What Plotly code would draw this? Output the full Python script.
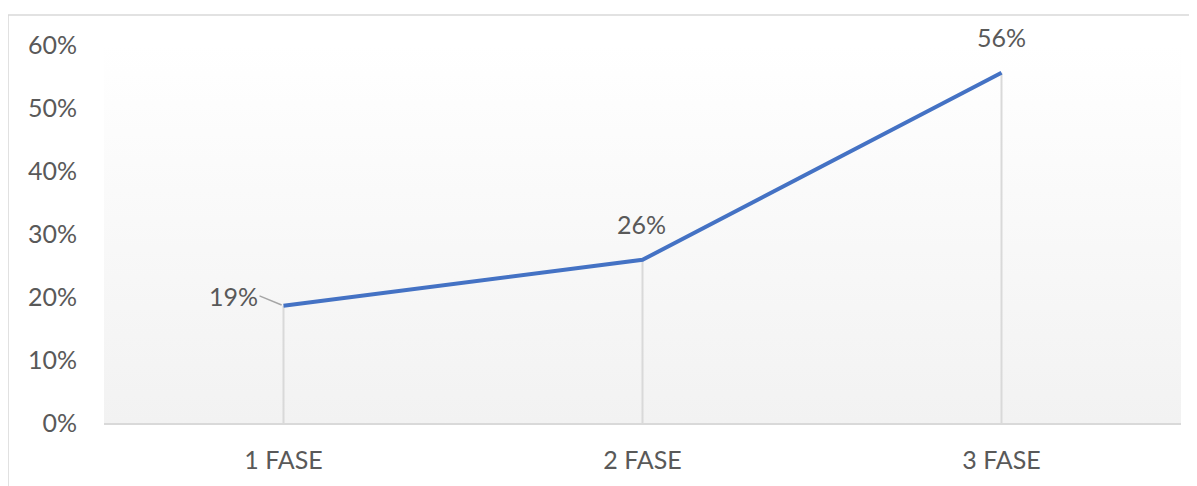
import plotly.graph_objects as go

phases = ["1 FASE", "2 FASE", "3 FASE"]
shares = [0.186, 0.259, 0.556]
y_ticks = [0, 0.1, 0.2, 0.3, 0.4, 0.5, 0.6]

TXT = "#595959"
FONT = "Lato"

fig = go.Figure()

# plot area with a soft vertical gradient like the Excel fill
fig.add_trace(go.Scatter(
    x=[-0.5, 2.5, 2.5, -0.5, -0.5], y=[0, 0, 0.6, 0.6, 0],
    mode="none", fill="toself",
    fillgradient=dict(type="vertical", start=0, stop=0.6,
                      colorscale=[[0, "#f2f2f2"], [1, "#ffffff"]]),
    hoverinfo="skip", showlegend=False))

# drop lines from each point to the axis
dx, dy = [], []
for i, v in enumerate(shares):
    dx += [i, i, None]
    dy += [0, v, None]
fig.add_trace(go.Scatter(x=dx, y=dy, mode="lines",
                         line=dict(color="#d9d9d9", width=2),
                         hoverinfo="skip", showlegend=False))

fig.add_trace(go.Scatter(x=list(range(len(phases))), y=shares, mode="lines",
                         line=dict(color="#4472C4", width=4),
                         showlegend=False))

# data labels
label_pos = [dict(showarrow=True, ax=-24, ay=-10, xanchor="right"),
             dict(showarrow=False, yshift=36, xshift=-1),
             dict(showarrow=False, yshift=36)]
for i, (v, p) in enumerate(zip(shares, label_pos)):
    fig.add_annotation(x=i, y=v, text=f"{round(v * 100)}%",
                       font=dict(family=FONT, size=25, color=TXT),
                       arrowhead=0, arrowcolor="#a6a6a6", arrowwidth=1.5,
                       standoff=2, **p)

# chart frame
fig.add_shape(type="rect", xref="paper", yref="paper",
              x0=-0.0891, x1=1.2, y0=-0.5, y1=1.0794,
              line=dict(color="#d9d9d9", width=1.5), layer="below")

# the page body adds an 8px offset, so margins are trimmed by that much
fig.update_layout(
    width=1197, height=486,
    margin=dict(l=96, r=24, t=37, b=71),
    paper_bgcolor="white", plot_bgcolor="rgba(0,0,0,0)",
    font=dict(family=FONT, size=25, color=TXT),
    xaxis=dict(range=[-0.5, 2.5], tickmode="array",
               tickvals=list(range(len(phases))), ticktext=phases,
               showgrid=False, zeroline=False, showline=True,
               linecolor="#d9d9d9", linewidth=1.5, ticks="",
               ticklabelstandoff=14),
    yaxis=dict(range=[0, 0.6], tickvals=y_ticks, tickformat=".0%",
               showgrid=False, zeroline=False, showline=False, ticks="",
               ticklabelstandoff=26),
)

fig.write_html("out.html")
